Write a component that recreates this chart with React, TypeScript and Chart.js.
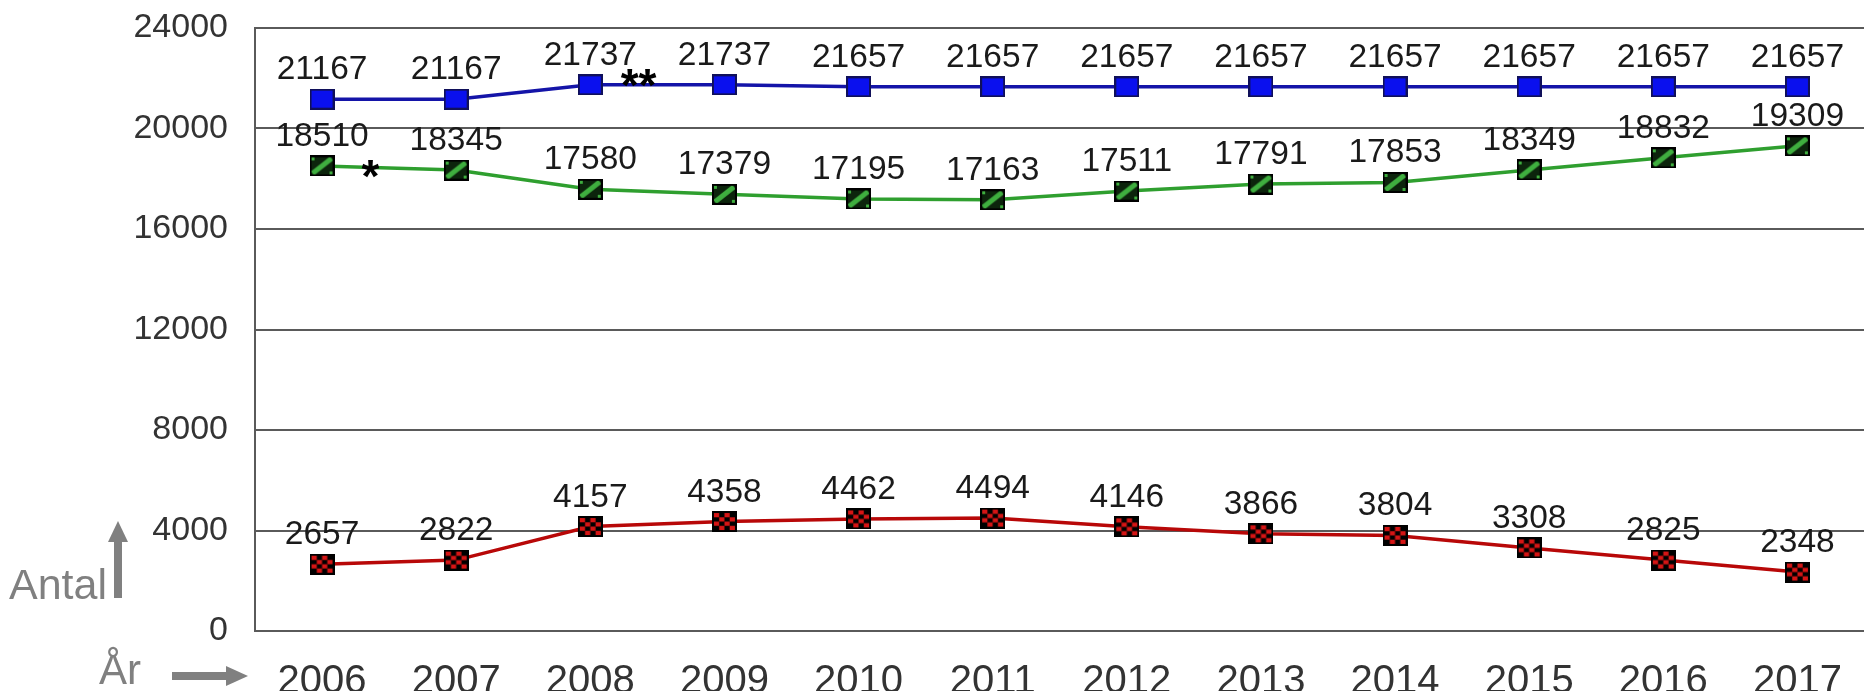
import React, { useEffect, useRef } from "react";
import { Chart, registerables } from "chart.js";

Chart.register(...registerables);

const years = ["2006", "2007", "2008", "2009", "2010", "2011", "2012", "2013", "2014", "2015", "2016", "2017"];
const blueValues = [21167, 21167, 21737, 21737, 21657, 21657, 21657, 21657, 21657, 21657, 21657, 21657];
const greenValues = [18510, 18345, 17580, 17379, 17195, 17163, 17511, 17791, 17853, 18349, 18832, 19309];
const redValues = [2657, 2822, 4157, 4358, 4462, 4494, 4146, 3866, 3804, 3308, 2825, 2348];
const yMin = 0;
const yMax = 24000;
const yStep = 4000;
const starTexts = ["*", "**"];
const starIndex = [0.36, 2.36];
const starValues = [18550, 22170];
const yTitle = "Antal";
const xTitle = "År";

const FONT = "'Liberation Sans', Arial, sans-serif";

function makeMarker(kind: "blue" | "green" | "red"): HTMLCanvasElement {
  const w = 25;
  const h = 21;
  const c = document.createElement("canvas");
  c.width = w;
  c.height = h;
  const g = c.getContext("2d")!;
  if (kind === "blue") {
    g.fillStyle = "#0a10ee";
    g.fillRect(0, 0, w, h);
    g.strokeStyle = "#10105a";
    g.lineWidth = 2;
    g.strokeRect(1, 1, w - 2, h - 2);
  } else if (kind === "green") {
    g.fillStyle = "#0c240c";
    g.fillRect(0, 0, w, h);
    g.save();
    g.beginPath();
    g.rect(2, 2, w - 4, h - 4);
    g.clip();
    g.strokeStyle = "#3fae3f";
    g.lineWidth = 5;
    g.beginPath();
    g.moveTo(3, h - 3);
    g.lineTo(w - 3, 3);
    g.stroke();
    g.fillStyle = "#3fae3f";
    g.fillRect(2, 2, 3, 3);
    g.fillRect(w - 5, h - 5, 3, 3);
    g.restore();
    g.strokeStyle = "#000";
    g.lineWidth = 2;
    g.strokeRect(1, 1, w - 2, h - 2);
  } else {
    g.fillStyle = "#000";
    g.fillRect(0, 0, w, h);
    const cw = (w - 4) / 4;
    const ch = (h - 4) / 4;
    g.fillStyle = "#d61515";
    for (let i = 0; i < 4; i++) {
      for (let j = 0; j < 4; j++) {
        if ((i + j) % 2 === 0) g.fillRect(2 + i * cw, 2 + j * ch, cw, ch);
      }
    }
    g.strokeStyle = "#000";
    g.lineWidth = 2;
    g.strokeRect(1, 1, w - 2, h - 2);
  }
  return c;
}

const labelsPlugin = {
  id: "valueLabels",
  afterDatasetsDraw(chart: any) {
    const ctx = chart.ctx;
    ctx.save();
    ctx.font = `33.5px ${FONT}`;
    ctx.fillStyle = "#1a1a1a";
    ctx.textAlign = "center";
    ctx.textBaseline = "alphabetic";
    chart.data.datasets.forEach((ds: any, di: number) => {
      const meta = chart.getDatasetMeta(di);
      meta.data.forEach((pt: any, i: number) => {
        ctx.fillText(String(ds.data[i]), pt.x, pt.y - 20);
      });
    });
    const xs = chart.scales.x;
    const ys = chart.scales.y;
    ctx.fillStyle = "#000";
    ctx.font = `bold 46px ${FONT}`;
    starTexts.forEach((t, i) => {
      const px = xs.getPixelForValue(starIndex[i]);
      const py = ys.getPixelForValue(starValues[i]);
      ctx.fillText(t, px, py + 27);
    });
    ctx.restore();
  },
  afterDraw(chart: any) {
    const ctx = chart.ctx;
    ctx.save();
    ctx.fillStyle = "#808080";
    ctx.font = `43px ${FONT}`;
    ctx.textAlign = "left";
    ctx.textBaseline = "alphabetic";
    ctx.fillText(yTitle, 9, 599);
    ctx.font = `42px ${FONT}`;
    ctx.fillText(xTitle, 99, 684);
    // up arrow
    ctx.fillRect(114, 540, 8, 58);
    ctx.beginPath();
    ctx.moveTo(108, 542);
    ctx.lineTo(118, 521);
    ctx.lineTo(128, 542);
    ctx.closePath();
    ctx.fill();
    // right arrow
    ctx.fillRect(172, 672, 56, 8);
    ctx.beginPath();
    ctx.moveTo(226, 666);
    ctx.lineTo(248, 676);
    ctx.lineTo(226, 686);
    ctx.closePath();
    ctx.fill();
    ctx.restore();
  },
};

export default function App() {
  const ref = useRef<HTMLCanvasElement | null>(null);
  useEffect(() => {
    if (!ref.current) return;
    const blueM = makeMarker("blue");
    const greenM = makeMarker("green");
    const redM = makeMarker("red");
    const chart = new Chart(ref.current, {
      type: "line",
      data: {
        labels: years,
        datasets: [
          {
            label: "blue",
            data: blueValues,
            borderColor: "#1414a8",
            borderWidth: 3.5,
            pointStyle: blueM as any,
            pointRadius: 12,
            tension: 0,
          },
          {
            label: "green",
            data: greenValues,
            borderColor: "#2f9f2f",
            borderWidth: 3.5,
            pointStyle: greenM as any,
            pointRadius: 12,
            tension: 0,
          },
          {
            label: "red",
            data: redValues,
            borderColor: "#b80808",
            borderWidth: 3.5,
            pointStyle: redM as any,
            pointRadius: 12,
            tension: 0,
          },
        ],
      },
      options: {
        animation: false,
        responsive: false,
        devicePixelRatio: 1,
        layout: { padding: { left: 0, right: 9, top: 28, bottom: 0 } },
        plugins: { legend: { display: false }, tooltip: { enabled: false } },
        scales: {
          x: {
            offset: true,
            grid: { display: false, drawTicks: false },
            border: { display: true, color: "#5a5a5a", width: 2 },
            ticks: {
              color: "#333",
              font: { size: 40, family: FONT },
              padding: 27,
              maxRotation: 0,
              autoSkip: false,
            },
            afterFit: (s: any) => {
              s.height = 60;
            },
          },
          y: {
            min: yMin,
            max: yMax,
            grid: { color: "#5a5a5a", lineWidth: 2, drawTicks: false },
            border: { display: true, color: "#5a5a5a", width: 2 },
            ticks: {
              stepSize: yStep,
              color: "#333",
              font: { size: 34, family: FONT },
              padding: 27,
              callback: (v: any) => String(v),
            },
            afterFit: (s: any) => {
              s.width = 255;
              s.paddingTop = 0;
              s.paddingBottom = 0;
            },
          },
        },
      },
      plugins: [labelsPlugin],
    });
    return () => chart.destroy();
  }, []);
  return (
    <div
      style={{
        position: "fixed",
        left: 0,
        top: 0,
        width: 1864,
        height: 691,
        overflow: "hidden",
        background: "#fff",
      }}
    >
      <canvas ref={ref} width={1880} height={691} style={{ width: 1880, height: 691, display: "block" }} />
    </div>
  );
}
